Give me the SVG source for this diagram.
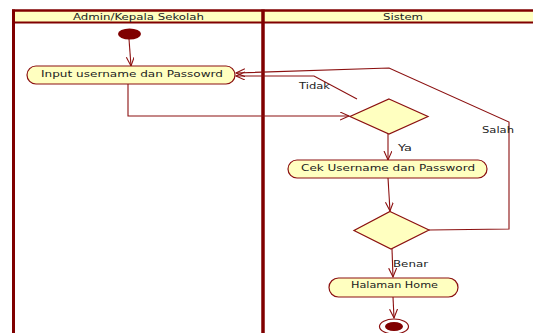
<svg xmlns="http://www.w3.org/2000/svg" width="533" height="333" viewBox="0 0 533 333">
<style>
.lane{stroke:#800000;fill:none}
.hdr{fill:#FFFFC0;stroke:none}
.node{fill:#FFFFC0;stroke:#8B1010;stroke-width:1.2}
.dec{fill:#FFFFC0;stroke:#8B1010;stroke-width:1.2}
.edge{fill:none;stroke:#8B1010;stroke-width:1.1}
text{font-family:"DejaVu Sans","Liberation Sans",sans-serif;font-size:8.5px;fill:#222}
.c{text-anchor:middle}
</style>
<defs>
<marker id="arr" markerUnits="userSpaceOnUse" markerWidth="12" markerHeight="10" refX="9" refY="4" orient="auto">
<path d="M0,0 L9,4 L0,8" fill="none" stroke="#8B1010" stroke-width="1.1"/>
</marker>
</defs>
<rect width="533" height="333" fill="#fff"/>
<g id="swimlanes">
<rect class="hdr" x="13" y="10" width="530" height="12.5"/>
<line class="lane" x1="12" y1="10.5" x2="533" y2="10.5" stroke-width="2.5"/>
<line class="lane" x1="12" y1="22.5" x2="533" y2="22.5" stroke-width="2"/>
<line class="lane" x1="13.5" y1="9.5" x2="13.5" y2="333" stroke-width="3"/>
<line class="lane" x1="263" y1="9.5" x2="263" y2="333" stroke-width="3.5"/>
<text class="c" x="138.5" y="19.5" textLength="131" lengthAdjust="spacingAndGlyphs">Admin/Kepala Sekolah</text>
<text class="c" x="403" y="19.5" textLength="40" lengthAdjust="spacingAndGlyphs">Sistem</text>
</g>
<g id="connectors">
<path class="edge" d="M129,39 L131,66" marker-end="url(#arr)"/>
<path class="edge" d="M128,84 L128,116 L349,116" marker-end="url(#arr)"/>
<path class="edge" d="M357,99 L314,76 L236,76" marker-end="url(#arr)"/>
<path class="edge" d="M388,134 L388,160" marker-end="url(#arr)"/>
<path class="edge" d="M388,178 L390,211" marker-end="url(#arr)"/>
<path class="edge" d="M429,230 L509,229 L509,122 L389,68 L236,73" marker-end="url(#arr)"/>
<path class="edge" d="M392,249 L393,277" marker-end="url(#arr)"/>
<path class="edge" d="M393,297 L394,318" marker-end="url(#arr)"/>
<text x="299" y="89" textLength="31" lengthAdjust="spacingAndGlyphs">Tidak</text>
<text x="482" y="133" textLength="32" lengthAdjust="spacingAndGlyphs">Salah</text>
<text x="398" y="151" textLength="14" lengthAdjust="spacingAndGlyphs">Ya</text>
<text x="393" y="267" textLength="35" lengthAdjust="spacingAndGlyphs">Benar</text>
</g>
<g id="start">
<ellipse cx="129.5" cy="34" rx="11.5" ry="5.5" fill="#800000"/>
</g>
<g id="input">
<rect class="node" x="27" y="66" width="208" height="18" rx="9" ry="9"/>
<text class="c" x="132" y="76.5" textLength="182" lengthAdjust="spacingAndGlyphs">Input username dan Passowrd</text>
</g>
<g id="decision1">
<polygon class="dec" points="389,99 428,116.5 389,134 350,116.5"/>
</g>
<g id="cek">
<rect class="node" x="288" y="160" width="199" height="18" rx="9" ry="9"/>
<text class="c" x="388" y="171" textLength="174" lengthAdjust="spacingAndGlyphs">Cek Username dan Password</text>
</g>
<g id="decision2">
<polygon class="dec" points="390,211.5 429,230 391,249 354,230.5"/>
</g>
<g id="home">
<rect class="node" x="329" y="278" width="129" height="19" rx="9.5" ry="9.5"/>
<text class="c" x="394.5" y="287.5" textLength="87" lengthAdjust="spacingAndGlyphs">Halaman Home</text>
</g>
<g id="end">
<ellipse cx="394" cy="326.5" rx="14.5" ry="7.5" fill="#fff" stroke="#8B1010" stroke-width="1.2"/>
<ellipse cx="394" cy="326.5" rx="9" ry="4.5" fill="#800000"/>
</g>
</svg>
